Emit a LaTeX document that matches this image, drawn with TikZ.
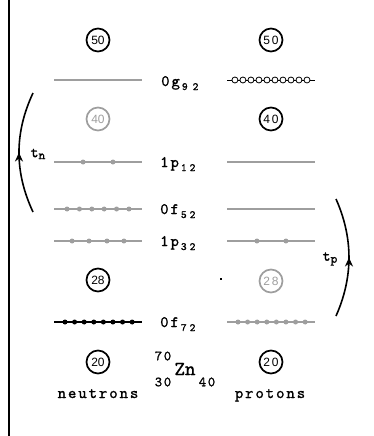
\documentclass[tikz,border=0pt]{standalone}
\usepackage{fontspec}
\newfontfamily\labfont[LetterSpace=12,FakeBold=1.2]{lmmono10-regular.otf}
\newfontfamily\monofont[FakeBold=1.2]{lmmono10-regular.otf}
\newfontfamily\digfont{Liberation Sans}
\usetikzlibrary{decorations.markings,arrows.meta}
\definecolor{lvgray}{gray}{0.62}
\tikzset{
 shell/.style={circle,draw,line width=1.7pt,minimum size=23pt,inner sep=0pt,font=\digfont\fontsize{12}{12}\selectfont},
 shellgray/.style={shell,draw=lvgray,text=lvgray},
 level/.style={draw=lvgray,line width=1.1pt},
 fulllevel/.style={draw=black,line width=1.5pt},
 pdot/.style={circle,fill=lvgray,inner sep=0pt,minimum size=5pt},
 bdot/.style={circle,fill=black,inner sep=0pt,minimum size=5pt},
 odot/.style={circle,draw=black,fill=white,line width=0.8pt,inner sep=0pt,minimum size=6pt},
 lab/.style={anchor=base west,inner sep=0pt,font=\labfont\fontsize{16}{16}\selectfont},
 word/.style={anchor=base,inner sep=0pt,font=\labfont\fontsize{16}{16}\selectfont},
 trans/.style={line width=1.6pt,postaction={decorate},decoration={markings,mark=at position 0.5 with {\arrow{Stealth[length=9pt,width=8pt]}}}}
}
\newcommand{\lsub}[1]{\kern2pt\raisebox{-4pt}{\fontsize{11}{11}\selectfont #1}}
\begin{document}
\begin{tikzpicture}[x=1pt,y=-1pt]
\useasboundingbox (0,0) rectangle (374,436);
\coordinate (vt) at (9,0);
\coordinate (vb) at (9,436);
\draw[line width=1.5pt] (vt) -- (vb);
% shells
\node[shell] (n50) at (98,40) {50};
\node[shell] (p50) at (271,40) {5\,0};
\node[shellgray] (n40) at (98,119) {40};
\node[shell] (p40) at (271,119) {4\,0};
\node[shell] (n28) at (98,280) {28};
\node[shellgray] (p28) at (271,281) {2\,8};
\node[shell] (n20) at (98,362) {20};
\node[shell] (p20) at (271,362) {2\,0};
% level end points
\coordinate (ng9a) at (54,80);  \coordinate (ng9b) at (142,80);
\coordinate (pg9a) at (227,80); \coordinate (pg9b) at (315,80);
\coordinate (np1a) at (54,162); \coordinate (np1b) at (142,162);
\coordinate (pp1a) at (227,162);\coordinate (pp1b) at (315,162);
\coordinate (nf5a) at (54,209); \coordinate (nf5b) at (142,209);
\coordinate (pf5a) at (227,209);\coordinate (pf5b) at (315,209);
\coordinate (np3a) at (54,241); \coordinate (np3b) at (142,241);
\coordinate (pp3a) at (227,241);\coordinate (pp3b) at (315,241);
\coordinate (nf7a) at (54,322); \coordinate (nf7b) at (142,322);
\coordinate (pf7a) at (227,322);\coordinate (pf7b) at (315,322);
% levels
\draw[level] (ng9a) -- (ng9b);
\draw[fulllevel,line width=1pt] (pg9a) -- (pg9b) foreach \p in {0.09,0.181,0.272,0.363,0.454,0.545,0.636,0.727,0.818,0.909} {node[pos=\p,odot]{}};
\draw[level] (np1a) -- (np1b) foreach \p in {0.33,0.67} {node[pos=\p,pdot]{}};
\draw[level] (pp1a) -- (pp1b);
\draw[level] (nf5a) -- (nf5b) foreach \p in {0.148,0.289,0.43,0.57,0.711,0.852} {node[pos=\p,pdot]{}};
\draw[level] (pf5a) -- (pf5b);
\draw[level] (np3a) -- (np3b) foreach \p in {0.205,0.398,0.602,0.795} {node[pos=\p,pdot]{}};
\draw[level] (pp3a) -- (pp3b) foreach \p in {0.34,0.67} {node[pos=\p,pdot]{}};
\draw[fulllevel] (nf7a) -- (nf7b) foreach \p in {0.125,0.234,0.343,0.452,0.561,0.67,0.779,0.888} {node[pos=\p,bdot]{}};
\draw[level] (pf7a) -- (pf7b) foreach \p in {0.125,0.234,0.343,0.452,0.561,0.67,0.779,0.888} {node[pos=\p,pdot]{}};
% level labels
\node[lab] (lg9) at (161,86) {0g\lsub{9\hspace{5pt}2}};
\node[lab] (lp1) at (160,167) {1p\lsub{1\hspace{3pt}2}};
\node[lab] (lf5) at (160,214) {0f\lsub{5\hspace{3pt}2}};
\node[lab] (lp3) at (160,246) {1p\lsub{3\hspace{3pt}2}};
\node[lab] (lf7) at (160,327) {0f\lsub{7\hspace{3pt}2}};
% speck
\node[fill=black,inner sep=0pt,minimum size=1.5pt] (spk) at (221,279) {};
% transitions
\coordinate (tnb) at (33,212); \coordinate (tnt) at (33,93);
\draw[trans] (tnb) .. controls (14.3,172) and (14.3,133) .. (tnt);
\node[inner sep=0pt,font=\monofont\fontsize{15}{15}\selectfont] (tn) at (38,154) {t\raisebox{-2pt}{\fontsize{13}{13}\selectfont n}};
\coordinate (tpb) at (336,316); \coordinate (tpt) at (336,199);
\draw[trans] (tpb) .. controls (353.3,277) and (353.3,238) .. (tpt);
\node[inner sep=0pt,font=\monofont\fontsize{15}{15}\selectfont] (tp) at (330,259) {t\raisebox{-2pt}{\fontsize{13}{13}\selectfont p}};
% nucleus
\node[inner sep=0pt,font=\monofont\fontsize{20}{20}\selectfont] (zn) at (185,369) {Zn};
\node[inner sep=0pt,font=\labfont\fontsize{14}{14}\selectfont] (za) at (163,356) {70};
\node[inner sep=0pt,font=\labfont\fontsize{14}{14}\selectfont] (zz) at (163,382) {30};
\node[inner sep=0pt,font=\labfont\fontsize{14}{14}\selectfont] (zn2) at (207,382) {40};
% words
\node[word] (neu) at (98,398) {neutrons};
\node[word] (pro) at (270,398) {protons};
\end{tikzpicture}
\end{document}
